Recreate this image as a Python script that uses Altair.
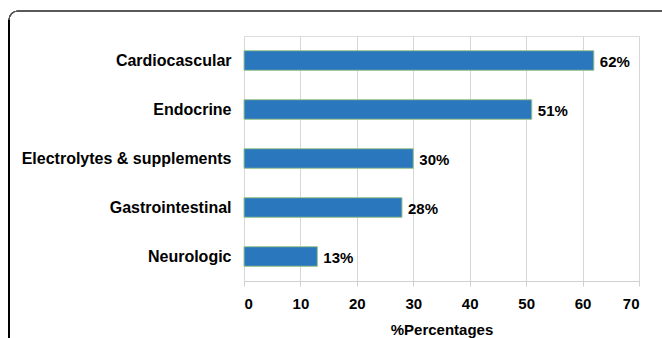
import altair as alt
import pandas as pd

categories = ["Cardiocascular", "Endocrine", "Electrolytes & supplements", "Gastrointestinal", "Neurologic"]
values = [62, 51, 30, 28, 13]
labels = ["62%", "51%", "30%", "28%", "13%"]

df = pd.DataFrame({"cat": categories, "val": values, "lab": labels})

FONT = "Liberation Sans"

y_enc = alt.Y("cat:N", sort=categories, title=None,
              scale=alt.Scale(paddingInner=0.6, paddingOuter=0.3),
              axis=alt.Axis(labelFont=FONT, labelFontWeight="bold", labelFontSize=16,
                            labelColor="#000", labelPadding=13, ticks=False, domain=False,
                            grid=False, labelLimit=300))
x_enc = alt.X("val:Q", title="%Percentages",
              scale=alt.Scale(domain=[0, 70], nice=False),
              axis=alt.Axis(values=[0, 10, 20, 30, 40, 50, 60, 70], labelFont=FONT,
                            labelFontWeight="bold", labelFontSize=15, labelColor="#000",
                            labelPadding=10, tickSize=5, tickColor="#d0d0d0",
                            domainColor="#d0d0d0", gridColor="#d6d6d6",
                            titleFont=FONT, titleFontWeight="bold", titleFontSize=15,
                            titleColor="#000", titlePadding=11))

bars = alt.Chart(df).mark_bar(color="#2a77bd", stroke="#9cc58a", strokeWidth=1).encode(
    x=x_enc, y=y_enc)

text = alt.Chart(df).mark_text(align="left", baseline="middle", dx=6, dy=1,
                               font=FONT, fontWeight="bold", fontSize=15, color="#000").encode(
    x=alt.X("val:Q"), y=alt.Y("cat:N", sort=categories), text="lab:N")

frame = alt.Chart(df).mark_rect(fill=None, stroke="#555", strokeWidth=1.2, cornerRadius=9).encode(
    x=alt.value(-235), x2=alt.value(460), y=alt.value(-25), y2=alt.value(360))

left = alt.Chart(df).mark_rule(color="#000", strokeWidth=2).encode(
    x=alt.value(-235), y=alt.value(-16), y2=alt.value(310))

chart = alt.layer(frame, left, bars, text).properties(
    width=395, height=245,
    autosize=alt.AutoSizeParams(type="none"),
    padding={"left": 244, "top": 36, "right": 23, "bottom": 57},
).configure_view(stroke=None).configure(background="#ffffff")

chart.save("out.html", embed_options={"renderer": "svg", "actions": False})
